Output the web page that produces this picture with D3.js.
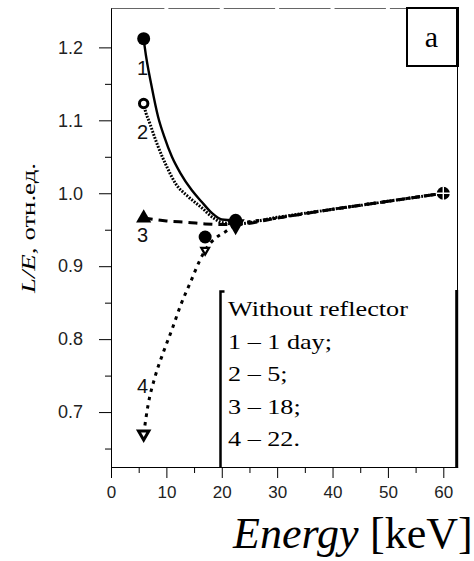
<!DOCTYPE html>
<html>
<head>
<meta charset="utf-8">
<script src="https://cdn.jsdelivr.net/npm/d3@7"></script>
<style>
  html, body { margin: 0; padding: 0; background: #fff; }
  svg { display: block; }
</style>
</head>
<body>
<svg id="chart" width="474" height="561"></svg>
<script>
// ---- data -------------------------------------------------------------
// Energies of the measured points, keV
const markerEnergy = [5.9, 17, 22.5, 60];
// Measured L/E for each ageing time (null: point covered by another marker)
const marks1 = [1.212, 0.94, 0.963, 1.0];   // 1 day, filled circles
const marks2 = [1.123, null, null, null];   // 5 days, open circles
const marks3 = [0.966, null, null, null];   // 18 days, triangles
const marks4 = [0.67, 0.922, 0.957, null];  // 22 days, inverted triangles

// Smoothed curves through the points
const curve1E = [5.9, 6.1, 7.35, 8.5, 9.6, 11, 12.5, 14.6, 16.4, 18.2, 20, 22.5];
const curve1V = [1.212, 1.20, 1.146, 1.105, 1.078, 1.050, 1.028, 1.004, 0.988, 0.973, 0.964, 0.963];
const curve2E = [5.9, 6.1, 7.0, 8.5, 10.1, 11.6, 14, 16.4, 18.5, 20, 22.5, 30, 40, 50, 60];
const curve2V = [1.123, 1.116, 1.096, 1.064, 1.036, 1.014, 0.995, 0.980, 0.966, 0.960, 0.958, 0.967, 0.978, 0.989, 1.0];
const curve3E = [5.9, 10, 14, 17, 20, 22.5, 30, 40, 50, 60];
const curve3V = [0.966, 0.962, 0.960, 0.958, 0.957, 0.957, 0.966, 0.978, 0.989, 1.0];
const curve4E = [5.9, 6.7, 7.9, 9.5, 11, 12.6, 14.4, 16.1, 17, 18.8, 20.6, 22.5, 30, 40, 50, 60];
const curve4V = [0.67, 0.71, 0.747, 0.783, 0.813, 0.847, 0.879, 0.909, 0.922, 0.938, 0.947, 0.956, 0.966, 0.978, 0.989, 1.0];

const xTicks = [0, 10, 20, 30, 40, 50, 60];
const xMinorTicks = [5, 15, 25, 35, 45, 55];
const yTicks = [0.7, 0.8, 0.9, 1.0, 1.1, 1.2];
const yMinorTicks = [0.65, 0.75, 0.85, 0.95, 1.05, 1.15];
const curveLabels = ["1", "2", "3", "4"];
const legendLines = ["Without reflector", "1 \u2013 1 day;", "2 \u2013 5;", "3 \u2013 18;", "4 \u2013 22."];
const panelLetter = "a";

// ---- drawing ----------------------------------------------------------
const svg = d3.select("#chart");
const SANS = "Liberation Sans, Arial, sans-serif";
const SERIF = "Liberation Serif, Times New Roman, serif";

const x = d3.scaleLinear().domain([0, 62.6]).range([111, 457.7]);
const y = d3.scaleLinear().domain([0.624, 1.254]).range([467.5, 8]);

// top frame line, broken at the major energy ticks
const boxLeft = 407;
const topStops = xTicks.concat([62.6]);
d3.pairs(topStops).forEach(([a, b]) => {
  const x1 = x(a) + (a > 0 ? 2 : 0);
  const x2 = Math.min(x(b) - 2, boxLeft);
  if (x2 > x1) {
    svg.append("line").attr("x1", x1).attr("x2", x2)
      .attr("y1", 8.5).attr("y2", 8.5)
      .attr("stroke", "#666").attr("stroke-width", 1);
  }
});

// right frame line
svg.append("line").attr("x1", 457.5).attr("x2", 457.5)
  .attr("y1", 66).attr("y2", 467.5).attr("stroke", "#000").attr("stroke-width", 1);

// y axis
const gy = svg.append("g").attr("transform", "translate(111,0)")
  .call(d3.axisLeft(y).tickValues(yTicks).tickFormat(d3.format(".1f"))
    .tickSize(12).tickSizeOuter(0).tickPadding(16));
gy.append("g").call(d3.axisLeft(y).tickValues(yMinorTicks).tickFormat("")
    .tickSize(6).tickSizeOuter(0))
  .select(".domain").remove();
gy.attr("font-family", SANS).attr("font-size", 18);
gy.selectAll("text").attr("fill", "#222");

// x axis
const gx = svg.append("g").attr("transform", "translate(0,467)")
  .call(d3.axisBottom(x).tickValues(xTicks).tickFormat(d3.format("d"))
    .tickSize(11).tickSizeOuter(0).tickPadding(8));
gx.append("g").call(d3.axisBottom(x).tickValues(xMinorTicks).tickFormat("")
    .tickSize(6).tickSizeOuter(0))
  .select(".domain").remove();
gx.attr("font-family", SANS).attr("font-size", 17);
gx.selectAll("text").attr("fill", "#222");

// curves
const line = d3.line().x(d => x(d[0])).y(d => y(d[1])).curve(d3.curveMonotoneX);
const curves = [
  { pts: d3.zip(curve4E, curve4V), dash: "3.5 5", w: 3 },
  { pts: d3.zip(curve3E, curve3V), dash: "9 6", w: 3 },
  { pts: d3.zip(curve2E, curve2V), dash: "1.8 1.4", w: 3 },
  { pts: d3.zip(curve1E, curve1V), dash: null, w: 2.4 }
];
svg.append("g").selectAll("path").data(curves).join("path")
  .attr("d", d => line(d.pts))
  .attr("fill", "none")
  .attr("stroke", "#000")
  .attr("stroke-width", d => d.w)
  .attr("stroke-dasharray", d => d.dash);

// markers
const pts = (vals) => markerEnergy.map((e, i) => [e, vals[i], i]).filter(d => d[1] != null);
const gm = svg.append("g");

// 22 days: inverted triangles (open where they stand alone)
const triSize = [46, 26, 90];
gm.selectAll(".m4").data(pts(marks4)).join("path").attr("class", "m4")
  .attr("d", d => d3.symbol(d3.symbolTriangle, triSize[d[2]])())
  .attr("transform", d => `translate(${x(d[0])},${y(d[1])}) rotate(180)`)
  .attr("fill", d => d[2] === 2 ? "#000" : "#fff")
  .attr("stroke", "#000")
  .attr("stroke-width", d => d[2] === 0 ? 3 : 2.2);

// 18 days: filled triangles
gm.selectAll(".m3").data(pts(marks3)).join("path").attr("class", "m3")
  .attr("d", d3.symbol(d3.symbolTriangle, 100)())
  .attr("transform", d => `translate(${x(d[0])},${y(d[1])})`)
  .attr("fill", "#000");

// 5 days: open circles
gm.selectAll(".m2").data(pts(marks2)).join("circle").attr("class", "m2")
  .attr("cx", d => x(d[0])).attr("cy", d => y(d[1])).attr("r", 4.2)
  .attr("fill", "#fff").attr("stroke", "#000").attr("stroke-width", 3);

// 1 day: filled circles
gm.selectAll(".m1").data(pts(marks1)).join("circle").attr("class", "m1")
  .attr("cx", d => x(d[0])).attr("cy", d => y(d[1])).attr("r", 6.5)
  .attr("fill", "#000");

// where all curves meet at the highest energy, the overlapping rings leave a light cross
const last = markerEnergy.length - 1;
const cx60 = x(markerEnergy[last]), cy60 = y(marks1[last]);
gm.append("path")
  .attr("d", `M${cx60 - 7},${cy60} H${cx60 + 7} M${cx60},${cy60 - 7} V${cy60 + 7}`)
  .attr("stroke", "#fff").attr("stroke-width", 1.4);

// curve numbers next to the first points
const firstVals = [marks1[0], marks2[0], marks3[0], marks4[0]];
const labelDy = [29, 28, 17, -48];
svg.append("g").selectAll("text").data(curveLabels).join("text")
  .attr("x", x(markerEnergy[0]) - 1)
  .attr("y", (d, i) => y(firstVals[i]) + labelDy[i] + 7)
  .attr("text-anchor", "middle")
  .attr("font-family", SANS).attr("font-size", 20).attr("fill", "#111")
  .text(d => d);

// legend bracket and text
svg.append("path").attr("d", "M224.5,291.5 H220.5 V467.5")
  .attr("fill", "none").attr("stroke", "#000").attr("stroke-width", 2.5);
svg.append("line").attr("x1", 456.7).attr("x2", 456.7).attr("y1", 290).attr("y2", 467.5)
  .attr("stroke", "#000").attr("stroke-width", 3);

const legendBase = 316, legendStep = 32.5;
const lg = svg.append("g");
const lt = lg.selectAll("text").data(legendLines).join("text")
  .attr("font-family", SERIF).attr("font-size", 22).attr("fill", "#000")
  .text(d => d);
const firstW = lt.node().getComputedTextLength();
const kx = 180 / firstW;
lt.attr("transform", (d, i) => `translate(228,${legendBase + i * legendStep}) scale(${kx},1)`);

// panel letter box
svg.append("rect").attr("x", 407).attr("y", 8).attr("width", 50.5).attr("height", 58)
  .attr("fill", "#fff").attr("stroke", "#000").attr("stroke-width", 2);
svg.append("line").attr("x1", 457.5).attr("x2", 457.5).attr("y1", 7).attr("y2", 67)
  .attr("stroke", "#000").attr("stroke-width", 3);
svg.append("text").attr("x", 431.5).attr("y", 46.5).attr("text-anchor", "middle")
  .attr("font-family", SERIF).attr("font-size", 30).text(panelLetter);

// axis titles
const yl = svg.append("text").attr("font-family", SERIF).attr("font-size", 19).attr("fill", "#000");
yl.append("tspan").attr("font-style", "italic").text("L/E,");
yl.append("tspan").attr("dx", 5).text("отн.ед.");
const ylw = yl.node().getComputedTextLength() + 5;
yl.attr("transform", `translate(35,293) rotate(-90) scale(${130 / ylw},1)`);

svg.append("text").attr("x", 233).attr("y", 548)
  .attr("font-family", SERIF).attr("font-size", 44).attr("font-style", "italic")
  .text("Energy");
svg.append("text").attr("x", 370).attr("y", 548)
  .attr("font-family", SERIF).attr("font-size", 44)
  .text("[keV]");
</script>
</body>
</html>
